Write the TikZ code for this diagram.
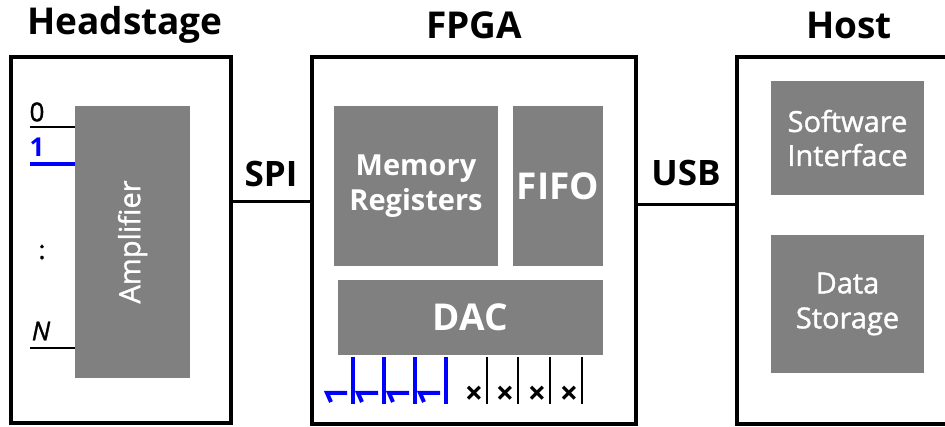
\documentclass[tikz,border=0pt]{standalone}
\usepackage{fontspec}
\setmainfont{Open Sans}
\newfontfamily\medfont{Open Sans}[FakeBold=1.2]
\usetikzlibrary{positioning,
                calc}
\definecolor{blockgray}{HTML}{808080}
\definecolor{chanblue}{HTML}{0000FF}
\tikzstyle{title} = [font=\fontsize{37}{42}\selectfont\bfseries, inner sep=0]
\tikzstyle{buslabel} = [font=\fontsize{35}{38}\selectfont\bfseries, inner sep=0]
\tikzstyle{frame} = [rectangle, draw=black, line width=4pt, inner sep=0]
\tikzstyle{block} = [rectangle, fill=blockgray, text=white, inner sep=0, align=center]
\tikzstyle{bus} = [line width=3pt]
\tikzstyle{chan} = [line width=2pt]
\tikzstyle{chanon} = [line width=4pt, draw=chanblue]
\tikzstyle{chlabel} = [font=\fontsize{26}{28}\selectfont\medfont, inner sep=0]
\tikzstyle{swon} = [line width=4pt, draw=chanblue]
\tikzstyle{swoff} = [line width=2pt]

\begin{document}
\begin{tikzpicture}[x=1pt, y=-1pt]
\useasboundingbox (0,0) rectangle (945,427);
\clip (0,0) rectangle (945,427);
% titles
\node (ttlhead) [title] at (125,25) {Headstage};
\node (ttlfpga) [title] at (474,25) {FPGA};
\node (ttlhost) [title] at (849,25) {Host};
% the three units
\node (head) [frame, minimum width=220pt, minimum height=366pt] at (121,240) {};
\node (fpga) [frame, minimum width=324pt, minimum height=367pt] at (474,240.5) {};
\node (host) [frame, minimum width=260pt, minimum height=367pt] at (867,240.5) {};
% buses
\coordinate (spiy) at (0,202);
\coordinate (usby) at (0,205);
\node (spi) [buslabel] at (271,174) {SPI};
\node (usb) [buslabel] at (686,173) {USB};
\draw [bus] (head.east |- spiy) -- (fpga.west |- spiy);
\draw [bus] (fpga.east |- usby) -- (host.west |- usby);
% headstage
\node (amp) [block, minimum width=115pt, minimum height=272pt] at (132.5,242)
      {\rotatebox{90}{\fontsize{29}{32}\selectfont\medfont Amplifier}};
\coordinate (ch0) at (30,127);
\coordinate (ch1) at (30,164);
\coordinate (chN) at (30,348);
\draw [chan] (ch0) -- (amp.west |- ch0);
\draw [chanon] (ch1) -- (amp.west |- ch1);
\draw [chan] (chN) -- (amp.west |- chN);
\node (l0) [chlabel] at (37,112) {0};
\node (l1) [chlabel, text=chanblue, font=\fontsize{26}{28}\selectfont\bfseries] at (37,147) {1};
\node (ldots) [chlabel] at (42,252) {:};
\node (lN) [chlabel, font=\fontsize{26}{28}\selectfont\medfont\itshape] at (41,331) {N};
% fpga
\node (mem) [block, minimum width=164pt, minimum height=160pt,
      font=\fontsize{29}{35}\selectfont\bfseries] at (416,186) {Memory\\Registers};
\node (fifo) [block, minimum width=90pt, minimum height=160pt,
      font=\fontsize{37}{40}\selectfont\bfseries] at (558,186) {FIFO};
\node (dac) [block, minimum width=265pt, minimum height=75pt,
      font=\fontsize{37}{40}\selectfont\bfseries] at (470.5,317.5) {DAC};
\foreach \x in {353,384,415,446} {
  \draw [swon] (\x,357) -- (\x,404);
  \draw [swon] (\x-6,393) -- (\x-26,393) -- (\x-22,402);
}
\foreach \x in {487,518,550,582} {
  \draw [swoff] (\x,357) -- (\x,404);
  \node (off\x) [font=\fontsize{32}{32}\selectfont\bfseries, inner sep=0] at (\x-13,395) {×};
}
% host
\node (sw) [block, minimum width=153pt, minimum height=114pt,
      font=\fontsize{29}{34}\selectfont\medfont] at (847.5,138) {Software\\Interface};
\node (store) [block, minimum width=153pt, minimum height=138pt,
      font=\fontsize{29}{35}\selectfont\medfont] at (847.5,304) {Data\\Storage};
\end{tikzpicture}
\end{document}
